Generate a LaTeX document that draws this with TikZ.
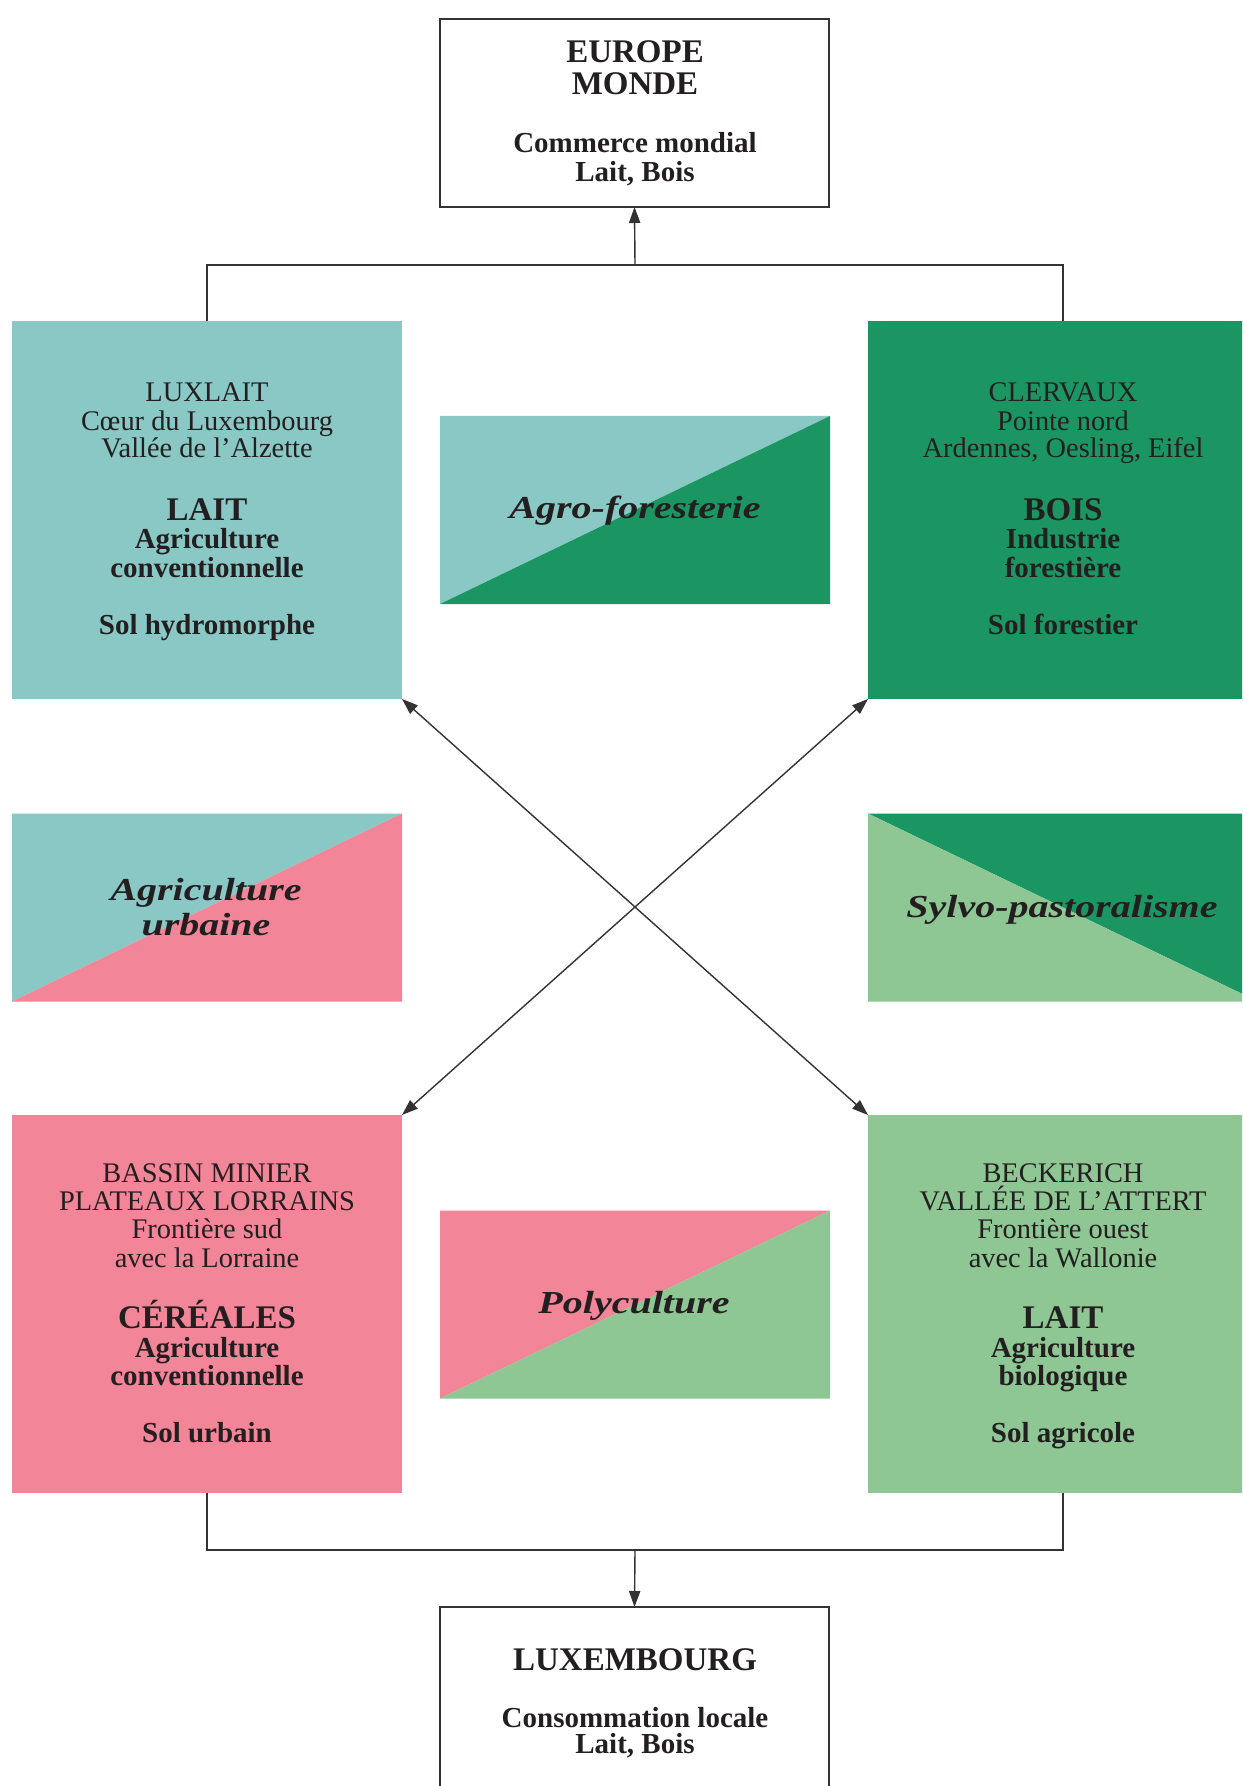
\documentclass[tikz,border=0pt]{standalone}
\usepackage{fontspec}
\setmainfont{Liberation Serif}
\newfontfamily\widefam[FakeStretch=1.25]{Liberation Serif}
\usetikzlibrary{arrows.meta}

\definecolor{laitc}{HTML}{8AC8C6}
\definecolor{foretc}{HTML}{1B9663}
\definecolor{rosec}{HTML}{F28598}
\definecolor{prec}{HTML}{8EC694}
\definecolor{encre}{HTML}{231F20}
\definecolor{trait}{HTML}{333333}

% one line of text placed on its baseline
\newcommand{\txtrow}[5]{\node[#1] (#2) at (#3,#4) {#5};}

\begin{document}
\begin{tikzpicture}[x=0.5pt, y=-0.5pt,
  every node/.style={inner sep=0pt, outer sep=0pt, text=encre},
  reg/.style={anchor=base, font=\fontsize{14.2}{16}\selectfont},
  bld/.style={anchor=base, font=\bfseries\fontsize{14.5}{16}\selectfont},
  head/.style={anchor=base, font=\bfseries\fontsize{16.5}{18}\selectfont},
  ital/.style={anchor=base, font=\widefam\bfseries\itshape\fontsize{16}{18}\selectfont},
  zone/.style={rectangle, minimum width=195pt, minimum height=189pt},
  mixbox/.style={rectangle, minimum width=195pt, minimum height=94pt},
  framebox/.style={rectangle, draw=trait, line width=0.7pt, fill=white,
    minimum width=194.5pt, minimum height=94pt},
  link/.style={draw=trait, line width=0.7pt},
  tip/.style={-{Triangle[length=8pt, width=5.6pt]}},
  dtip/.style={{Triangle[length=8pt, width=5.6pt]}-{Triangle[length=8pt, width=5.6pt]}}
]
\clip (0,0) rectangle (1242,1786);
\fill[white] (0,0) rectangle (1242,1786);

% ---- regional blocks ----
\node[zone, fill=laitc]  (nw) at (207,510) {};
\node[zone, fill=foretc] (ne) at (1063,510) {};
\node[zone, fill=rosec]  (sw) at (207,1304) {};
\node[zone, fill=prec]   (se) at (1063,1304) {};

% ---- two-colour blocks ----
\node[mixbox] (agro) at (635,510) {};
\fill[laitc]  (agro.north west) -- (agro.north east) -- (agro.south west) -- cycle;
\fill[foretc] (agro.north east) -- (agro.south east) -- (agro.south west) -- cycle;

\node[mixbox] (urb) at (207,907.5) {};
\fill[laitc] (urb.north west) -- (urb.north east) -- (urb.south west) -- cycle;
\fill[rosec] (urb.north east) -- (urb.south east) -- (urb.south west) -- cycle;

\node[mixbox] (sylvo) at (1063,907.5) {};
\fill[foretc] (sylvo.north west) -- (sylvo.north east) -- (sylvo.south east) -- cycle;
\fill[prec]   (sylvo.north west) -- (sylvo.south east) -- (sylvo.south west) -- cycle;

\node[mixbox] (poly) at (635,1304.5) {};
\fill[rosec] (poly.north west) -- (poly.north east) -- (poly.south west) -- cycle;
\fill[prec]  (poly.north east) -- (poly.south east) -- (poly.south west) -- cycle;

% ---- framed boxes ----
\node[framebox] (monde) at (634.5,113) {};
\node[framebox] (luxbg) at (634.5,1701) {};

% ---- connectors ----
\coordinate (tj) at (635,265);
\coordinate (bj) at (635,1550);
\draw[link] (nw.north) |- (tj) -| (ne.north);
\draw[link, tip] (tj) -- (monde.south);
\draw[link] (sw.south) |- (bj) -| (se.south);
\draw[link, tip] (bj) -- (luxbg.north);
\draw[link, dtip] (nw.south east) -- (se.north west);
\draw[link, dtip] (ne.south west) -- (sw.north east);

% ---- texts: top box ----
\txtrow{head}{m1}{635}{63}{EUROPE}
\txtrow{head}{m2}{635}{95}{MONDE}
\txtrow{bld}{m3}{635}{153}{Commerce mondial}
\txtrow{bld}{m4}{635}{182}{Lait, Bois}

% ---- texts: north-west block ----
\txtrow{reg}{a1}{207}{402}{LUXLAIT}
\txtrow{reg}{a2}{207}{430}{Cœur du Luxembourg}
\txtrow{reg}{a3}{207}{458}{Vallée de l’Alzette}
\txtrow{head}{a4}{207}{520}{LAIT}
\txtrow{bld}{a5}{207}{548}{Agriculture}
\txtrow{bld}{a6}{207}{577}{conventionnelle}
\txtrow{bld}{a7}{207}{634}{Sol hydromorphe}

% ---- texts: north-east block ----
\txtrow{reg}{b1}{1063}{402}{CLERVAUX}
\txtrow{reg}{b2}{1063}{430}{Pointe nord}
\txtrow{reg}{b3}{1063}{458}{Ardennes, Oesling, Eifel}
\txtrow{head}{b4}{1063}{520}{BOIS}
\txtrow{bld}{b5}{1063}{548}{Industrie}
\txtrow{bld}{b6}{1063}{577}{forestière}
\txtrow{bld}{b7}{1063}{634}{Sol forestier}

% ---- texts: two-colour blocks ----
\txtrow{ital}{t1}{635}{518}{Agro-foresterie}
\txtrow{ital}{t2}{206}{900}{Agriculture}
\txtrow{ital}{t3}{206}{935}{urbaine}
\txtrow{ital}{t4}{1062}{917}{Sylvo-pastoralisme}
\txtrow{ital}{t5}{634}{1313}{Polyculture}

% ---- texts: south-west block ----
\txtrow{reg}{c1}{207}{1182}{BASSIN MINIER}
\txtrow{reg}{c2}{207}{1210}{PLATEAUX LORRAINS}
\txtrow{reg}{c3}{207}{1238}{Frontière sud}
\txtrow{reg}{c4}{207}{1267}{avec la Lorraine}
\txtrow{head}{c5}{207}{1328}{CÉRÉALES}
\txtrow{bld}{c6}{207}{1357}{Agriculture}
\txtrow{bld}{c7}{207}{1385}{conventionnelle}
\txtrow{bld}{c8}{207}{1442}{Sol urbain}

% ---- texts: south-east block ----
\txtrow{reg}{d1}{1063}{1182}{BECKERICH}
\txtrow{reg}{d2}{1063}{1210}{VALLÉE DE L’ATTERT}
\txtrow{reg}{d3}{1063}{1238}{Frontière ouest}
\txtrow{reg}{d4}{1063}{1267}{avec la Wallonie}
\txtrow{head}{d5}{1063}{1328}{LAIT}
\txtrow{bld}{d6}{1063}{1357}{Agriculture}
\txtrow{bld}{d7}{1063}{1385}{biologique}
\txtrow{bld}{d8}{1063}{1442}{Sol agricole}

% ---- texts: bottom box ----
\txtrow{head}{l1}{635}{1670}{LUXEMBOURG}
\txtrow{bld}{l2}{635}{1727}{Consommation locale}
\txtrow{bld}{l3}{635}{1753}{Lait, Bois}
\end{tikzpicture}
\end{document}
